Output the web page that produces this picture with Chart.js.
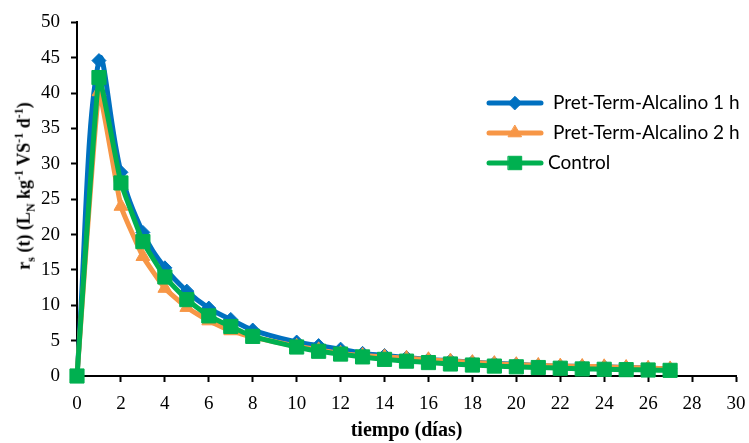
<!DOCTYPE html>
<html>
<head>
<meta charset="utf-8">
<script src="https://cdn.jsdelivr.net/npm/chart.js@4"></script>
<style>
  html, body { margin: 0; padding: 0; background: #fff; }
  #wrap { position: relative; width: 749px; height: 443px; }
  #yTitle {
    position: absolute; left: 25px; top: 186px;
    transform: translate(-50%, -50%) rotate(-90deg);
    font-family: "Liberation Serif", serif; font-weight: bold; font-size: 18px;
    white-space: nowrap; color: #000;
  }
  #yTitle sub, #yTitle sup { font-size: 12px; }
</style>
</head>
<body>
<div id="wrap">
  <canvas id="chart" width="749" height="443"></canvas>
  <div id="yTitle">r<sub>s</sub> (t) (L<sub>N</sub> kg<sup>-1</sup> VS<sup>-1</sup> d<sup>-1</sup>)</div>
</div>
<script>
// días de medición
const days = [0, 1, 2, 3, 4, 5, 6, 7, 8, 10, 11, 12, 13, 14, 15, 16, 17, 18, 19, 20, 21, 22, 23, 24, 25, 26, 27];
const alcalino1h = [0, 44.6, 28.8, 20.3, 15.3, 12.0, 9.6, 8.0, 6.5, 4.8, 4.3, 3.8, 3.2, 2.9, 2.6, 2.35, 2.15, 1.95, 1.8, 1.65, 1.5, 1.4, 1.35, 1.3, 1.2, 1.1, 1.0];
const alcalino2h = [0, 40.2, 24.0, 16.9, 12.4, 9.7, 7.8, 6.4, 5.5, 4.2, 3.7, 3.2, 2.9, 2.7, 2.5, 2.3, 2.1, 1.9, 1.75, 1.6, 1.5, 1.4, 1.35, 1.3, 1.2, 1.1, 1.0];
const control = [0, 42.2, 27.3, 19.0, 14.0, 10.8, 8.5, 7.0, 5.6, 4.1, 3.5, 3.1, 2.7, 2.35, 2.1, 1.9, 1.7, 1.55, 1.4, 1.3, 1.2, 1.1, 1.0, 0.95, 0.9, 0.85, 0.8];
const seriesNames = ['Pret-Term-Alcalino 1 h', 'Pret-Term-Alcalino 2 h', 'Control'];
const seriesColors = ['#0070C0', '#F79646', '#00B050'];

const toPoints = arr => arr.map((v, i) => ({ x: days[i], y: v }));

// leyenda dibujada a mano: línea con marcador, como en Excel
const lineLegend = {
    id: 'lineLegend',
    afterDraw(chart) {
        const ctx = chart.ctx;
        const rows = [103, 133, 163];
        chart.data.datasets.forEach((ds, i) => {
            const y = rows[i];
            ctx.save();
            ctx.strokeStyle = ds.borderColor;
            ctx.lineWidth = 5;
            ctx.lineCap = 'round';
            ctx.beginPath();
            ctx.moveTo(489, y);
            ctx.lineTo(541, y);
            ctx.stroke();
            ctx.fillStyle = ds.borderColor;
            ctx.strokeStyle = ds.borderColor;
            ctx.lineWidth = 1;
            Chart.helpers.drawPoint(ctx, {
                pointStyle: ds.pointStyle,
                radius: ds.pointRadius * 0.95,
                borderWidth: 1
            }, 515, y);
            ctx.fillStyle = '#000';
            ctx.font = '19px Lato';
            ctx.textBaseline = 'middle';
            ctx.fillText(ds.label, i === 2 ? 548 : 553, y);
            ctx.restore();
        });
    }
};

const common = { borderWidth: 5, clip: false, pointBorderWidth: 1 };

new Chart(document.getElementById('chart'), {
    type: 'line',
    data: {
        datasets: [
            {
                ...common,
                label: seriesNames[0],
                data: toPoints(alcalino1h),
                borderColor: seriesColors[0],
                backgroundColor: seriesColors[0],
                pointBackgroundColor: seriesColors[0],
                pointBorderColor: seriesColors[0],
                pointStyle: 'rectRot',
                pointRadius: 7,
                tension: 0.4,
                order: 2
            },
            {
                ...common,
                label: seriesNames[1],
                data: toPoints(alcalino2h),
                borderColor: seriesColors[1],
                backgroundColor: seriesColors[1],
                pointBackgroundColor: seriesColors[1],
                pointBorderColor: seriesColors[1],
                pointStyle: 'triangle',
                pointRadius: 8,
                tension: 0.1,
                order: 1
            },
            {
                ...common,
                label: seriesNames[2],
                data: toPoints(control),
                borderColor: seriesColors[2],
                backgroundColor: seriesColors[2],
                pointBackgroundColor: seriesColors[2],
                pointBorderColor: seriesColors[2],
                pointStyle: 'rect',
                pointRadius: 10,
                tension: 0.1,
                order: 0
            }
        ]
    },
    options: {
        responsive: false,
        animation: false,
        layout: { padding: { top: 22, right: 0, left: 0, bottom: 0 } },
        plugins: {
            legend: { display: false },
            tooltip: { enabled: false }
        },
        scales: {
            x: {
                type: 'linear',
                min: 0,
                max: 30,
                ticks: {
                    stepSize: 2,
                    color: '#000',
                    padding: 11,
                    maxRotation: 0,
                    font: { family: 'Liberation Serif', size: 19 }
                },
                grid: { drawOnChartArea: false, tickLength: 6, tickColor: '#000', tickWidth: 2 },
                border: { color: '#000', width: 2 },
                title: {
                    display: true,
                    text: 'tiempo (días)',
                    color: '#000',
                    padding: { top: 0, bottom: 0 },
                    font: { family: 'Liberation Serif', size: 20, weight: 'bold' }
                },
                afterFit(scale) {
                    scale.height = 67;
                    scale.paddingLeft = 0;
                    scale.paddingRight = 13;
                }
            },
            y: {
                min: 0,
                max: 50,
                ticks: {
                    stepSize: 5,
                    color: '#000',
                    padding: 11,
                    font: { family: 'Liberation Serif', size: 19 }
                },
                grid: { drawOnChartArea: false, tickLength: 6, tickColor: '#000', tickWidth: 2 },
                border: { color: '#000', width: 2 },
                afterFit(scale) { scale.width = 77; }
            }
        }
    },
    plugins: [lineLegend]
});
</script>
</body>
</html>
